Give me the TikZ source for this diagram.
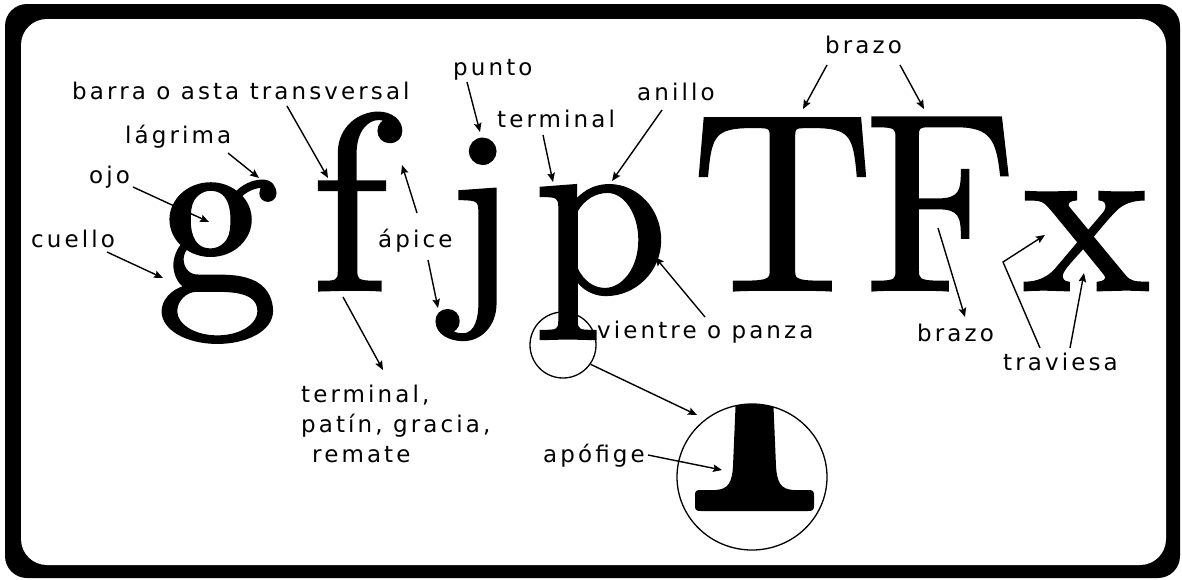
\documentclass[tikz,border=0pt]{standalone}
\usepackage{fontspec}
\usetikzlibrary{arrows.meta,shapes.geometric}
\newfontfamily\labfont[LetterSpace=13.5]{DejaVu Sans}
\newfontfamily\glyfont[FakeBold=1.2]{lmroman10-regular.otf}
\begin{document}
\begin{tikzpicture}[x=1pt,y=-1pt,
  lbl/.style={font=\labfont\fontsize{23}{30}\selectfont, inner sep=0pt, anchor=base west, align=left},
  gl/.style={inner sep=0pt, anchor=base west},
  arr/.style={line width=1.4pt, -{Stealth[length=9pt,width=7.5pt,inset=1.5pt]}},
  ring/.style={draw, line width=1.3pt, inner sep=0pt}]
\useasboundingbox (0,0) rectangle (1182,579);
% frame
\fill[black, rounded corners=22pt] (5,4) rectangle (1180,578);
\fill[white, rounded corners=26pt] (21,19) rectangle (1166,565);

% big letters
\node[gl, font=\glyfont\fontsize{245}{245}\selectfont] (g) at (156,292) {g};
\node[gl, font=\glyfont\fontsize{251}{251}\selectfont] (f) at (311,290) {f};
\node[gl, font=\glyfont\fontsize{233}{233}\selectfont] (j) at (446,292) {j};
\node[gl, font=\glyfont\fontsize{241}{241}\selectfont] (p) at (534,292) {p};
\node[gl, font=\glyfont\fontsize{253}{253}\selectfont] (T) at (691,290) {T};
\node[gl, font=\glyfont\fontsize{253}{253}\selectfont] (F) at (865,290) {\scalebox{0.92}[1]{F}};
\node[gl, font=\glyfont\fontsize{227}{227}\selectfont] (x) at (1022,290) {\scalebox{1.07}[1]{x}};

% labels
\node[lbl] (barra) at (72,99) {barra o asta transversal};
\node[lbl] (lagrima) at (125,143) {lágrima};
\node[lbl] (ojo) at (89,183) {ojo};
\node[lbl] (cuello) at (31,247) {cuello};
\node[lbl] (punto) at (453,75) {punto};
\node[lbl] (terminal) at (497,127) {terminal};
\node[lbl] (anillo) at (637,100) {anillo};
\node[lbl] (brazoA) at (825,53) {brazo};
\node[lbl] (apice) at (378,247) {ápice};
\node[lbl] (vientre) at (597,338) {vientre o panza};
\node[lbl] (brazoB) at (917,341) {brazo};
\node[lbl] (traviesa) at (1003,370) {traviesa};
\node[lbl] (remate) at (301,462) {terminal,\\patín, gracia,\\\hspace{11pt}remate};
\node[lbl] (apofige) at (543,462) {apófige};

% magnifier circles
\node[ring, circle, minimum size=66pt] (sc) at (563,345) {};
\node[ring, ellipse, minimum width=150pt, minimum height=146pt] (bc) at (752,477) {};
\begin{scope}
  \clip (752,477) ellipse [x radius=75pt, y radius=73pt];
  \fill (736,395) -- (733,466) .. controls (732,483) and (728,489) .. (716,490)
    -- (701,490) .. controls (696,490) and (695,491) .. (695,496)
    -- (695,505) .. controls (695,510) and (696,511) .. (701,511)
    -- (808,511) .. controls (813,511) and (814,510) .. (814,505)
    -- (814,496) .. controls (814,491) and (813,490) .. (808,490)
    -- (793,490) .. controls (781,489) and (777,483) .. (776,466)
    -- (773,395) -- cycle;
\end{scope}

% coordinates
\coordinate (barraT) at (287,106);   \coordinate (barraH) at (328,178);
\coordinate (lagT) at (228,153);     \coordinate (lagH) at (259,178);
\coordinate (ojoT) at (133,187);     \coordinate (ojoH) at (209,222);
\coordinate (cueT) at (107,252);     \coordinate (cueH) at (163,278);
\coordinate (punT) at (467,82);      \coordinate (punH) at (480,132);
\coordinate (terT) at (543,135);     \coordinate (terH) at (553,182);
\coordinate (aniT) at (662,110);     \coordinate (aniH) at (612,181);
\coordinate (apiT1) at (417,213);    \coordinate (apiH1) at (402,165);
\coordinate (apiT2) at (428,260);    \coordinate (apiH2) at (438,308);
\coordinate (remT) at (343,297);     \coordinate (remH) at (383,370);
\coordinate (vieT) at (705,317);     \coordinate (vieH) at (655,257);
\coordinate (brAT1) at (827,65);     \coordinate (brAH1) at (803,109);
\coordinate (brAT2) at (900,65);     \coordinate (brAH2) at (924,109);
\coordinate (brBT) at (938,228);     \coordinate (brBH) at (965,317);
\coordinate (traT1) at (1040,348);   \coordinate (traC) at (1003,262); \coordinate (traH1) at (1045,235);
\coordinate (traT2) at (1070,348);   \coordinate (traH2) at (1084,273);
\coordinate (magH) at (697,415);
\coordinate (apoT) at (648,455);     \coordinate (apoH) at (722,470);

% connectors
\draw[arr] (barraT) -- (barraH);
\draw[arr] (lagT) -- (lagH);
\draw[arr] (ojoT) -- (ojoH);
\draw[arr] (cueT) -- (cueH);
\draw[arr] (punT) -- (punH);
\draw[arr] (terT) -- (terH);
\draw[arr] (aniT) -- (aniH);
\draw[arr] (apiT1) -- (apiH1);
\draw[arr] (apiT2) -- (apiH2);
\draw[arr] (remT) -- (remH);
\draw[arr] (vieT) -- (vieH);
\draw[arr] (brAT1) -- (brAH1);
\draw[arr] (brAT2) -- (brAH2);
\draw[arr] (brBT) -- (brBH);
\draw[arr] (traT1) -- (traC) -- (traH1);
\draw[arr] (traT2) -- (traH2);
\draw[arr] (sc.-35) -- (magH);
\draw[arr] (apoT) -- (apoH);
\end{tikzpicture}
\end{document}
